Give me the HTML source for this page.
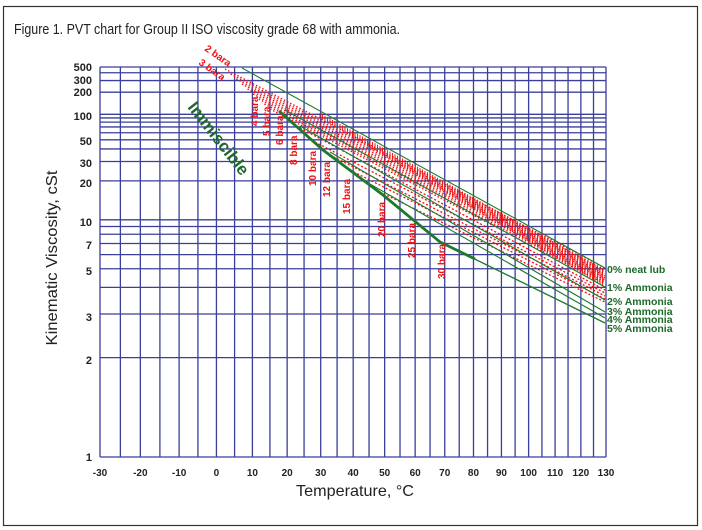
<!DOCTYPE html>
<html><head><meta charset="utf-8"><style>
html,body{margin:0;padding:0;background:#fff}
svg{display:block}
text{font-family:"Liberation Sans",Arial,sans-serif}
</style></head><body>
<svg id="s" width="702" height="530" viewBox="0 0 702 530" xmlns="http://www.w3.org/2000/svg">
<rect x="3.5" y="6.5" width="694" height="519" fill="#fff" stroke="#333" stroke-width="1.2"/>
<text x="14" y="34" font-size="15" textLength="386" lengthAdjust="spacingAndGlyphs" fill="#222">Figure 1. PVT chart for Group II ISO viscosity grade 68 with ammonia.</text>
<g id="grid" stroke="#3a3f9a" stroke-width="1.3" fill="none"></g>
<g id="red" stroke="#f01010" fill="none"></g>
<g id="green" stroke="#1e7a2a" fill="none"></g>
<g font-weight="bold" font-size="11" fill="#222" text-anchor="end">
<text x="92" y="71">500</text><text x="92" y="84">300</text><text x="92" y="96">200</text>
<text x="92" y="120">100</text><text x="92" y="145">50</text><text x="92" y="167">30</text>
<text x="92" y="187">20</text><text x="92" y="226">10</text><text x="92" y="249">7</text>
<text x="92" y="275">5</text><text x="92" y="321">3</text><text x="92" y="364">2</text>
<text x="92" y="461">1</text>
</g>
<g id="xl" font-weight="bold" font-size="10" fill="#222" text-anchor="middle"></g>
<text x="355" y="496" font-size="16" text-anchor="middle" fill="#222" textLength="118" lengthAdjust="spacingAndGlyphs">Temperature, °C</text>
<text transform="translate(57,258) rotate(-90)" font-size="16" text-anchor="middle" fill="#222" textLength="175" lengthAdjust="spacingAndGlyphs">Kinematic Viscosity, cSt</text>
<text transform="translate(214,142) rotate(52)" font-size="17" font-weight="bold" fill="#1e6a2a" text-anchor="middle">Immiscible</text>
<g font-weight="bold" font-size="10" fill="#f01010">
<text transform="translate(204,50) rotate(35)">2 bara</text>
<text transform="translate(198,64) rotate(35)">3 bara</text>
<text transform="translate(258,126) rotate(-90)">4 bara</text>
<text transform="translate(270,136) rotate(-90)">5 bara</text>
<text transform="translate(283,145) rotate(-90)">6 bara</text>
<text transform="translate(297,165) rotate(-90)">8 bara</text>
<text transform="translate(316,186) rotate(-90)">10 bara</text>
<text transform="translate(330,197) rotate(-90)">12 bara</text>
<text transform="translate(350,214) rotate(-90)">15 bara</text>
<text transform="translate(385,237) rotate(-90)">20 bara</text>
<text transform="translate(415,258) rotate(-90)">25 bara</text>
<text transform="translate(445,279) rotate(-90)">30 bara</text>
</g>
<g font-weight="bold" font-size="10.5" fill="#1e6a2a">
<text x="607" y="273">0% neat lub</text>
<text x="607" y="291">1% Ammonia</text>
<text x="607" y="305">2% Ammonia</text>
<text x="607" y="315">3% Ammonia</text>
<text x="607" y="323">4% Ammonia</text>
<text x="607" y="332">5% Ammonia</text>
</g>
</svg>
<script>
var NS="http://www.w3.org/2000/svg";
function X(t){return 100+506*Math.log10((t+273.15)/243.15)/Math.log10(403.15/243.15);}
function Y(v){return 67+(0.4313-Math.log10(Math.log10(v+0.7)))*364.9;}
function ln(g,x1,y1,x2,y2,a){var e=document.createElementNS(NS,"line");e.setAttribute("x1",x1);e.setAttribute("y1",y1);e.setAttribute("x2",x2);e.setAttribute("y2",y2);for(var k in a)e.setAttribute(k,a[k]);document.getElementById(g).appendChild(e);}
var x0=X(-30),x1=X(130);
for(var t=-30;t<=130;t+=5){ln("grid",X(t),Y(500),X(t),Y(1),{});}
[500,400,300,200,100,90,80,70,60,50,40,30,20,10,9,8,7,6,5,4,3,2,1].forEach(function(v){ln("grid",x0,Y(v),x1,Y(v),{});});
var xl=document.getElementById("xl");
for(var t=-30;t<=130;t+=10){var e=document.createElementNS(NS,"text");e.setAttribute("x",X(t));e.setAttribute("y",476);e.textContent=t;xl.appendChild(e);}
for(var i=0;i<9;i++){var f=i/8;
 ln("red",225+f*45,69+f*40,605,268+f*16,{"stroke-width":1.3,"stroke-dasharray":"1.5,2"});}
[[300,128,290],[315,142,293],[330,155,296],[350,170,299],[380,192,302]].forEach(function(p){
 ln("red",p[0],p[1],605,p[2],{"stroke-width":1.3,"stroke-dasharray":"2,2"});});
for(var x=320;x<=603;x+=2.5){var f=(x-242)/363;var ytop=68+f*200+2,ybot=ytop+5+(x-320)/283*12;ln("red",x,ytop,x,ybot,{"stroke-width":1.1,"opacity":0.9});}
ln("green",242,68,605,268,{"stroke-width":1.1});
ln("green",285,110,605,287,{"stroke-width":1.1});
ln("green",300,126,605,300,{"stroke-width":1.1});
ln("green",330,152,605,312,{"stroke-width":1.1});
ln("green",370,184,605,318,{"stroke-width":1.1});
ln("green",440,242,605,323,{"stroke-width":1.3});
var p=document.createElementNS(NS,"polyline");p.setAttribute("points","279,111 323,150 383,195 440,242 475,259");p.setAttribute("stroke-width","2.8");document.getElementById("green").appendChild(p);
</script>
</body></html>
